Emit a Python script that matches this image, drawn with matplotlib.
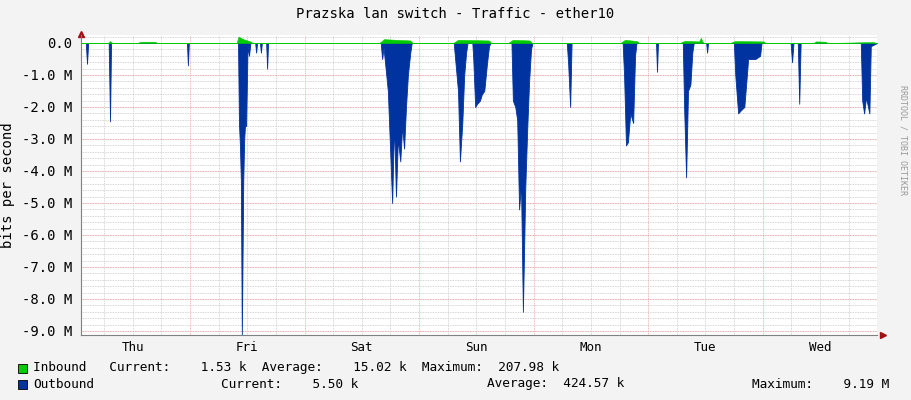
import matplotlib
matplotlib.use("Agg")
import matplotlib.pyplot as plt
import numpy as np

plt.rcParams['font.family'] = ['DejaVu Sans Mono']

# (hours since start of graph, outbound M bits/s) - drawn negative
outbound = [(0, 0), (1.0, 0), (1.26, 0.65), (1.5, 0), (5.8, 0), (6.08, 2.45), (6.3, 0), (22.2, 0), (22.4, 0.7), (22.6, 0),
            (32.9, 0), (33.1, 2.5), (33.3, 3.2), (33.5, 4.3), (33.7, 9.19), (34.0, 4.3), (34.2, 3.0), (34.4, 2.5),
            (34.6, 2.6), (34.9, 0.1), (35.2, 0.4), (35.5, 0), (36.5, 0), (36.7, 0.3), (36.9, 0), (37.5, 0), (37.7, 0.3),
            (37.9, 0), (38.8, 0), (39.0, 0.8), (39.2, 0), (62.8, 0), (63.1, 0.5), (63.4, 0.15), (64.3, 1.5), (65.2, 5.0),
            (65.6, 2.5), (66.0, 4.8), (66.4, 3.0), (66.9, 3.7), (67.3, 2.6), (67.7, 3.3), (68.1, 2.0), (68.5, 1.0),
            (69.0, 0.3), (69.3, 0), (78.1, 0), (78.4, 0.5), (79.0, 1.5), (79.4, 3.7), (79.9, 2.5), (80.3, 1.0),
            (80.7, 0.3), (81.0, 0), (82.0, 0), (82.2, 0.5), (82.6, 2.0), (83.0, 1.9), (83.6, 1.8), (84.0, 1.6),
            (84.5, 1.5), (85.1, 0.6), (85.5, 0.1), (85.8, 0), (90.2, 0), (90.5, 1.8), (91.0, 2.0), (91.4, 2.4),
            (91.8, 5.2), (92.2, 4.4), (92.6, 8.4), (93.1, 4.5), (93.5, 2.7), (93.9, 1.2), (94.3, 0.2), (94.6, 0),
            (101.8, 0), (102.1, 0.7), (102.5, 2.0), (102.8, 0), (113.5, 0), (113.8, 1.0), (114.2, 3.2), (114.6, 3.1),
            (115.1, 2.2), (115.7, 2.5), (116.1, 0.4), (116.4, 0), (120.5, 0), (120.7, 0.9), (120.9, 0), (126.1, 0),
            (126.4, 2.1), (126.8, 4.2), (127.2, 1.5), (127.7, 1.3), (128.1, 0.3), (128.4, 0), (131.0, 0), (131.2, 0.3),
            (131.4, 0), (136.8, 0), (137.1, 1.0), (137.7, 2.2), (138.3, 2.1), (139.0, 2.0), (139.8, 0.5), (141.3, 0.5),
            (142.3, 0.4), (142.6, 0), (148.7, 0), (149.0, 0.6), (149.3, 0), (150.2, 0), (150.5, 1.9), (150.8, 0),
            (163.4, 0), (163.7, 1.8), (164.1, 2.2), (164.5, 1.7), (165.2, 2.2), (165.5, 0.1), (166.8, 0)]
inbound = [(0, 0), (5.6, 0), (6.1, 0.06), (6.6, 0), (11.8, 0), (12.5, 0.04), (15.5, 0.04), (16.0, 0), (32.6, 0),
           (33.0, 0.2), (34.0, 0.12), (35.5, 0.05), (36.0, 0), (62.5, 0), (63.5, 0.12), (66.0, 0.1), (69.0, 0.08),
           (69.5, 0), (78.0, 0), (79.0, 0.1), (85.5, 0.08), (86.0, 0), (89.5, 0), (90.5, 0.1), (94.0, 0.08), (94.5, 0),
           (113.0, 0), (114.0, 0.1), (116.5, 0.06), (117.0, 0), (125.5, 0), (126.5, 0.07), (129.5, 0.05), (129.9, 0.16),
           (130.2, 0.05), (130.5, 0), (136.0, 0), (137.0, 0.06), (143.0, 0.05), (143.5, 0), (153.5, 0), (154.0, 0.05),
           (156.0, 0.04), (156.5, 0), (166.0, 0.03), (166.8, 0)]
day_labels = ["Thu", "Fri", "Sat", "Sun", "Mon", "Tue", "Wed"]
first_midnight = 22.85
y_ticks = [0, -1, -2, -3, -4, -5, -6, -7, -8, -9]
y_labels = ["0.0", "-1.0 M", "-2.0 M", "-3.0 M", "-4.0 M", "-5.0 M", "-6.0 M", "-7.0 M", "-8.0 M", "-9.0 M"]

out_t = [p[0] for p in outbound]
out_v = [-p[1] for p in outbound]
in_t = [p[0] for p in inbound]
in_v = [p[1] for p in inbound]

fig = plt.figure(figsize=(9.11, 4.0), dpi=100, facecolor="#F3F3F3")
ax = fig.add_axes([81/911, 65/400, 796/911, 300/400])
ax.set_facecolor("white")
xmax = 166.8
ax.set_xlim(0, xmax)
ax.set_ylim(-9.125, 0.25)

for y in np.arange(-9.0, 0.25, 0.2):
    ax.axhline(y, color="#C8C8C8", lw=0.6, ls=(0, (1, 1)), zorder=0)
for y in y_ticks:
    ax.axhline(y, color="#F0A0A0", lw=0.6, ls=(0, (1, 1)), zorder=0)
h = first_midnight - 24
while h < xmax:
    for k in (6, 12, 18):
        if 0 < h + k < xmax:
            ax.axvline(h + k, color="#C8C8C8", lw=0.6, ls=(0, (1, 1)), zorder=0)
    h += 24
for i in range(7):
    ax.axvline(first_midnight + 24 * i, color="#F0A0A0", lw=0.6, ls=(0, (1, 1)), zorder=0)

ax.fill_between(out_t, out_v, 0, color="#0033A0", lw=0.6, zorder=2)
ax.plot([0, xmax], [0, 0], color="#0033A0", lw=0.6, zorder=2)
ax.fill_between(in_t, in_v, 0, color="#00CC00", lw=0.4, zorder=3)

ax.set_yticks(y_ticks)
ax.set_yticklabels(y_labels, fontsize=10)
ax.set_xticks([first_midnight - 12 + 24 * i for i in range(7)])
ax.set_xticklabels(day_labels, fontsize=9)
ax.tick_params(length=0, pad=4)
ax.tick_params(axis='y', pad=6)
for s in ("top", "right"):
    ax.spines[s].set_visible(False)
ax.spines["left"].set_color("#808080")
ax.spines["bottom"].set_color("#808080")
ax.plot([xmax * 1.007], [-9.125], marker=">", color="#A01010", ms=4, clip_on=False)
ax.plot([0], [0.29], marker="^", color="#A01010", ms=4, clip_on=False)
ax.set_ylabel("bits per second", fontsize=10)
ax.yaxis.set_label_coords(-0.083, 0.5)

fig.text(455/911, 1 - 14/400, "Prazska lan switch - Traffic - ether10", ha="center", va="center", fontsize=10)
fig.text(903/911, 0.5 + 60/400, "RRDTOOL / TOBI OETIKER", rotation=270, ha="center", va="center", fontsize=6, color="#999999")

fig.patches.append(plt.Rectangle((18/911, 1 - 373/400), 9/911, 9/400, transform=fig.transFigure, facecolor="#00CC00", edgecolor="black", lw=0.6))
fig.patches.append(plt.Rectangle((18/911, 1 - 389/400), 9/911, 9/400, transform=fig.transFigure, facecolor="#0033A0", edgecolor="black", lw=0.6))
fig.text(33/911, 1 - 368/400, "Inbound   Current:    1.53 k  Average:    15.02 k  Maximum:  207.98 k", va="center", fontsize=9.2)
fig.text(33/911, 1 - 384/400, "Outbound", va="center", fontsize=9.2)
fig.text(221/911, 1 - 384/400, "Current:    5.50 k", va="center", fontsize=9.2)
fig.text(487/911, 1 - 384/400, "Average:  424.57 k", va="center", fontsize=9.2)
fig.text(752/911, 1 - 384/400, "Maximum:    9.19 M", va="center", fontsize=9.2)

fig.savefig("out.png", dpi=100, facecolor=fig.get_facecolor())
